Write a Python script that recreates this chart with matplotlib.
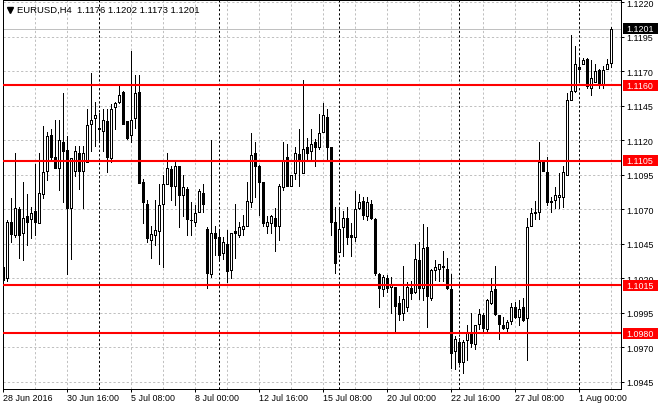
import matplotlib
matplotlib.use('Agg')
import matplotlib.pyplot as plt
from matplotlib.patches import Rectangle
from matplotlib.lines import Line2D
from matplotlib import transforms
import numpy as np

# EURUSD H4 bars, 28 Jun 2016 00:00 .. 2 Aug 2016 08:00
opens = [1.1028, 1.1020, 1.1061, 1.1051, 1.1070, 1.1053, 1.1065, 1.1063, 1.1069, 1.1060,
         1.1081, 1.1098, 1.1124, 1.1108, 1.1100, 1.1119, 1.1113, 1.1071, 1.1098, 1.1111,
         1.1098, 1.1104, 1.1132, 1.1136, 1.1129, 1.1127, 1.1134, 1.1107, 1.1144, 1.1148,
         1.1155, 1.1134, 1.1124, 1.1136, 1.1155, 1.1090, 1.1074, 1.1048, 1.1051, 1.1054,
         1.1074, 1.1088, 1.1099, 1.1087, 1.1101, 1.1080, 1.1085, 1.1062, 1.1061, 1.1068,
         1.1082, 1.1056, 1.1023, 1.1053, 1.1050, 1.1038, 1.1045, 1.1026, 1.1054, 1.1051,
         1.1056, 1.1058, 1.1075, 1.1111, 1.1101, 1.1090, 1.1058, 1.1060, 1.1064, 1.1058,
         1.1086, 1.1108, 1.1087, 1.1096, 1.1110, 1.1096, 1.1115, 1.1112, 1.1119, 1.1115,
         1.1126, 1.1137, 1.1115, 1.1061, 1.1039, 1.1057, 1.1064, 1.1051, 1.1050, 1.1071,
         1.1076, 1.1065, 1.1074, 1.1063, 1.1023, 1.1012, 1.1020, 1.1014, 1.1014, 1.1002,
         1.0995, 1.0999, 1.1013, 1.1010, 1.1033, 1.1013, 1.1043, 1.1006, 1.1026, 1.1027,
         1.1029, 1.1027, 1.1012, 1.0967, 1.0974, 1.0959, 1.0975, 1.0981, 1.0972, 1.0987,
         1.0993, 1.0983, 1.1002, 1.1012, 1.0993, 1.0986, 1.0984, 1.0989, 1.0999, 1.0992,
         1.0999, 1.0991, 1.1058, 1.1068, 1.1068, 1.1104, 1.1097, 1.1076, 1.1077, 1.1079,
         1.1079, 1.1095, 1.1149, 1.1156, 1.1173, 1.1175, 1.1179, 1.1158, 1.1162, 1.1171,
         1.1161, 1.1172, 1.1176]
highs = [1.1031, 1.1062, 1.1078, 1.1111, 1.1072, 1.1090, 1.1081, 1.1072, 1.1103, 1.1111,
         1.1130, 1.1126, 1.1128, 1.1135, 1.1135, 1.1154, 1.1123, 1.1107, 1.1116, 1.1116,
         1.1116, 1.1143, 1.1169, 1.1148, 1.1140, 1.1143, 1.1143, 1.1146, 1.1148, 1.1159,
         1.1156, 1.1134, 1.1185, 1.1167, 1.1167, 1.1092, 1.1077, 1.1058, 1.1077, 1.1088,
         1.1095, 1.1111, 1.1101, 1.1106, 1.1101, 1.1095, 1.1086, 1.1075, 1.1073, 1.1085,
         1.1088, 1.1057, 1.1120, 1.1058, 1.1055, 1.1050, 1.1055, 1.1053, 1.1074, 1.1061,
         1.1066, 1.1090, 1.1125, 1.1119, 1.1102, 1.1090, 1.1065, 1.1066, 1.1071, 1.1088,
         1.1119, 1.1117, 1.1095, 1.1115, 1.1128, 1.1164, 1.1122, 1.1128, 1.1121, 1.1139,
         1.1147, 1.1143, 1.1115, 1.1072, 1.1072, 1.1069, 1.1072, 1.1060, 1.1083, 1.1081,
         1.1079, 1.1079, 1.1077, 1.1064, 1.1024, 1.1022, 1.1022, 1.1021, 1.1014, 1.1007,
         1.1029, 1.1017, 1.1018, 1.1045, 1.1046, 1.1059, 1.1057, 1.1027, 1.1033, 1.1030,
         1.1040, 1.1035, 1.1023, 1.0978, 1.0977, 1.0975, 1.0986, 1.0995, 1.0986, 1.0998,
         1.0995, 1.1005, 1.1020, 1.1029, 1.0993, 1.0992, 1.0990, 1.1002, 1.1003, 1.1004,
         1.1006, 1.1064, 1.1071, 1.1076, 1.1119, 1.1106, 1.1108, 1.1079, 1.1086, 1.1096,
         1.1101, 1.1154, 1.1196, 1.1188, 1.1180, 1.1180, 1.1180, 1.1178, 1.1175, 1.1172,
         1.1174, 1.1179, 1.1202]
lows = [1.1015, 1.1018, 1.1046, 1.1050, 1.1035, 1.1033, 1.1044, 1.1049, 1.1051, 1.1060,
        1.1078, 1.1091, 1.1106, 1.1100, 1.1084, 1.1075, 1.1023, 1.1034, 1.1094, 1.1085,
        1.1071, 1.1104, 1.1112, 1.1116, 1.1120, 1.1112, 1.1097, 1.1104, 1.1128, 1.1147,
        1.1132, 1.1121, 1.1119, 1.1129, 1.1089, 1.1060, 1.1046, 1.1035, 1.1044, 1.1030,
        1.1028, 1.1088, 1.1077, 1.1073, 1.1057, 1.1065, 1.1051, 1.1051, 1.1058, 1.1068,
        1.1068, 1.1013, 1.1021, 1.1037, 1.1034, 1.1034, 1.1017, 1.1020, 1.1035, 1.1050,
        1.1051, 1.1058, 1.1072, 1.1079, 1.1066, 1.1058, 1.1053, 1.1053, 1.1040, 1.1048,
        1.1084, 1.1087, 1.1087, 1.1092, 1.1087, 1.1096, 1.1106, 1.1106, 1.1101, 1.1114,
        1.1126, 1.1106, 1.1051, 1.1024, 1.1039, 1.1036, 1.1045, 1.1036, 1.1047, 1.1070,
        1.1063, 1.1062, 1.1063, 1.1022, 1.0999, 1.1007, 1.1010, 1.0995, 1.0981, 1.0990,
        1.0990, 1.0996, 1.1005, 1.1009, 1.1005, 1.1004, 1.0985, 1.1004, 1.1019, 1.1018,
        1.1018, 1.1012, 1.0955, 1.0954, 1.0958, 1.0951, 1.0961, 1.0970, 1.0969, 1.0983,
        1.0982, 1.0982, 1.1001, 1.0993, 1.0976, 1.0983, 1.0980, 1.0987, 1.0991, 1.0986,
        1.0989, 1.0961, 1.1058, 1.1063, 1.1063, 1.1098, 1.1073, 1.1068, 1.1071, 1.1071,
        1.1072, 1.1095, 1.1149, 1.1155, 1.1162, 1.1175, 1.1158, 1.1153, 1.1162, 1.1158,
        1.1158, 1.1172, 1.1173]
closes = [1.1019, 1.1061, 1.1052, 1.1071, 1.1051, 1.1064, 1.1061, 1.1067, 1.1061, 1.1082,
          1.1097, 1.1123, 1.1108, 1.1100, 1.1120, 1.1112, 1.1071, 1.1107, 1.1112, 1.1098,
          1.1111, 1.1131, 1.1135, 1.1138, 1.1128, 1.1135, 1.1108, 1.1143, 1.1147, 1.1153,
          1.1132, 1.1122, 1.1135, 1.1154, 1.1089, 1.1075, 1.1049, 1.1052, 1.1055, 1.1073,
          1.1088, 1.1100, 1.1087, 1.1101, 1.1080, 1.1086, 1.1063, 1.1062, 1.1067, 1.1083,
          1.1074, 1.1024, 1.1053, 1.1049, 1.1037, 1.1046, 1.1025, 1.1053, 1.1053, 1.1057,
          1.1058, 1.1076, 1.1109, 1.1101, 1.1090, 1.1060, 1.1061, 1.1065, 1.1058, 1.1087,
          1.1106, 1.1087, 1.1095, 1.1111, 1.1106, 1.1114, 1.1111, 1.1117, 1.1115, 1.1125,
          1.1138, 1.1115, 1.1061, 1.1031, 1.1056, 1.1064, 1.1050, 1.1050, 1.1070, 1.1075,
          1.1066, 1.1075, 1.1064, 1.1024, 1.1013, 1.1021, 1.1013, 1.1015, 1.1000, 1.0994,
          1.1005, 1.1014, 1.1009, 1.1034, 1.1013, 1.1042, 1.1007, 1.1026, 1.1028, 1.1030,
          1.1028, 1.1013, 1.0966, 1.0976, 1.0959, 1.0974, 1.0981, 1.0973, 1.0986, 1.0994,
          1.0984, 1.1004, 1.1011, 1.0994, 1.0987, 1.0984, 1.0988, 1.0999, 1.0992, 1.0998,
          1.0990, 1.1057, 1.1067, 1.1067, 1.1104, 1.1098, 1.1075, 1.1075, 1.1080, 1.1080,
          1.1097, 1.1149, 1.1156, 1.1175, 1.1172, 1.1178, 1.1159, 1.1165, 1.1170, 1.1161,
          1.1171, 1.1175, 1.1201]

tick_labels = ['28 Jun 2016', '30 Jun 16:00', '5 Jul 08:00', '8 Jul 00:00', '12 Jul 16:00',
               '15 Jul 08:00', '20 Jul 00:00', '22 Jul 16:00', '27 Jul 08:00', '1 Aug 00:00']
levels = [1.1160, 1.1105, 1.1015, 1.0980]
last_price = 1.1201
week_starts = [24, 54, 84, 114, 144]   # Monday 00:00 bars
title = 'EURUSD,H4  1.1176 1.1202 1.1173 1.1201'

plt.rcParams['font.family'] = ['Liberation Sans', 'DejaVu Sans']
plt.rcParams['font.size'] = 6.4

fig = plt.figure(figsize=(6.6, 4.1), dpi=100)
ax = fig.add_axes([3 / 660, 20 / 410, 618 / 660, 389 / 410])

x = np.arange(len(opens))

# grid
for v in range(8, len(opens), 8):
    ax.axvline(v, color='#c0c0c0', lw=0.72, ls=(0, (2.2, 2.2)), zorder=1)
for v in week_starts:
    ax.axvline(v, color='black', lw=0.72, ls=(0, (2.2, 2.2)), zorder=2)
ax.grid(axis='y', color='#c0c0c0', lw=0.72, ls=(0, (2.2, 2.2)), zorder=1)
ax.set_axisbelow(True)
ax.axhline(last_price, color='#c0c0c0', lw=0.72, zorder=1.5)

# candles
ax.vlines(x, lows, highs, color='black', lw=0.72, zorder=3, antialiased=False)
for i in x:
    o, c = opens[i], closes[i]
    fc = 'white' if c >= o else 'black'
    ax.add_patch(Rectangle((i - 0.25, min(o, c)), 0.5, abs(c - o), facecolor=fc,
                           edgecolor='black', lw=0.72, zorder=4, antialiased=False))

for lv in levels:
    ax.axhline(lv, color='#ff0000', lw=1.5, zorder=5)

ax.set_xlim(-0.075, 154.4)
ax.set_ylim(1.09397, 1.12217)

ax.set_xticks(np.arange(0, len(opens), 16))
ax.set_xticklabels(tick_labels, ha='left')
ax.set_yticks(np.arange(1.0945, 1.12201, 0.0025))
ax.yaxis.set_major_formatter(matplotlib.ticker.FormatStrFormatter('%.4f'))
ax.yaxis.tick_right()
ax.tick_params(axis='both', length=2.2, width=0.72, direction='out', colors='black')
ax.tick_params(axis='x', pad=1)
ax.tick_params(axis='y', pad=1.5)
for s in ax.spines.values():
    s.set_linewidth(0.72)

# price labels on the right
tr = transforms.blended_transform_factory(ax.transAxes, ax.transData)
box_h = 0.0008
for lv, col in [(lv, '#ff0000') for lv in levels] + [(last_price, 'black')]:
    ax.add_patch(Rectangle((1.0032, lv - box_h / 2), 0.056, box_h, transform=tr,
                           facecolor=col, edgecolor='none', clip_on=False, zorder=10))
    ax.text(1.0081, lv, '%.4f' % lv, transform=tr, color='white', va='center',
            ha='left', zorder=11, clip_on=False)

# title
fig.add_artist(Line2D([9.5 / 660], [1 - 10.5 / 410], marker='v', ms=4.5, color='black',
                      transform=fig.transFigure))
fig.text(17 / 660, 1 - 10.5 / 410, title, va='center', ha='left', fontsize=6.8)

fig.savefig('out.png', dpi=100)
